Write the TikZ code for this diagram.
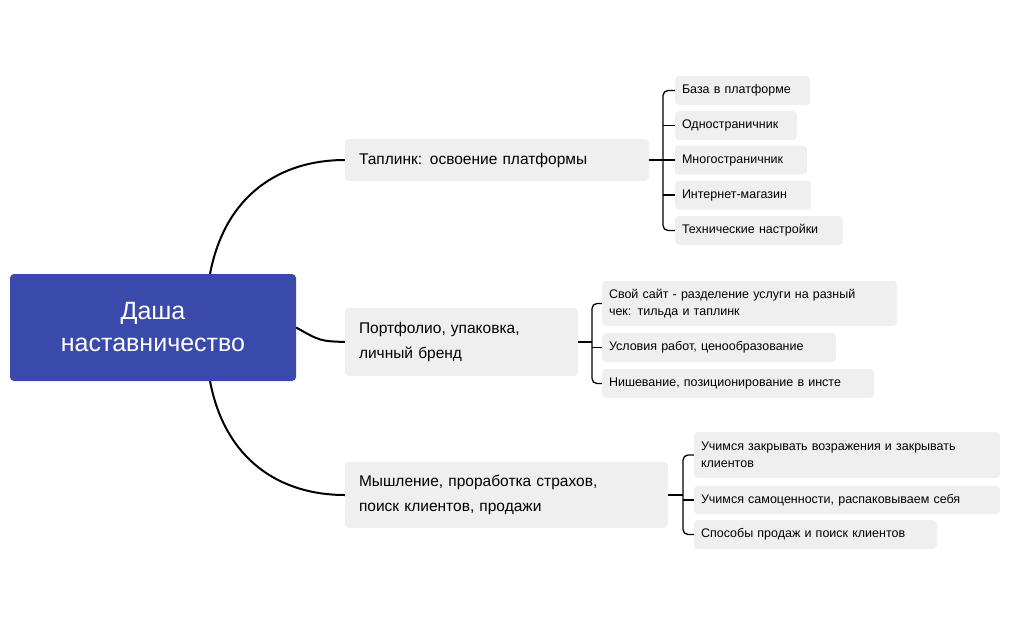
\documentclass[tikz,border=0pt]{standalone}
\usepackage{fontspec}
\setmainfont{Liberation Sans}
\begin{document}
\begin{tikzpicture}[x=1pt,y=-1pt,
  root/.style={fill=rootblue,rounded corners=4pt,text=white,align=center,font=\fontsize{25}{32}\selectfont},
  branch/.style={fill=boxgray,rounded corners=4pt,align=left,inner xsep=14pt,inner ysep=0pt,font=\fontsize{15.5}{25}\selectfont},
  leaf/.style={fill=boxgray,rounded corners=4pt,align=left,inner xsep=7pt,inner ysep=0pt,font=\fontsize{12.5}{17}\selectfont},
  conn/.style={draw=black,line width=2pt},
  brk/.style={draw=black,line width=1.3pt,rounded corners=5pt}]
\definecolor{rootblue}{HTML}{3A4AAB}
\definecolor{boxgray}{HTML}{EFEFEF}
\useasboundingbox (0,0) rectangle (1010,625);
\node[root,minimum width=286pt,minimum height=107pt] (r) at (153,327.5) {Даша\\наставничество};
\node[branch,text width=276pt,minimum height=42pt] (b1) at (497,160) {Таплинк: освоение платформы};
\node[branch,text width=205pt,minimum height=68pt] (b2) at (461.5,342) {Портфолио, упаковка,\\личный бренд};
\node[branch,text width=295pt,minimum height=66pt] (b3) at (506.5,495) {Мышление, проработка страхов,\\поиск клиентов, продажи};
% leaves
\node[leaf,text width=121pt,minimum height=29pt] (l1) at (742.5,90.5) {База в платформе};
\node[leaf,text width=108pt,minimum height=29pt] (l2) at (736,125.5) {Одностраничник};
\node[leaf,text width=118pt,minimum height=29pt] (l3) at (741,160) {Многостраничник};
\node[leaf,text width=122pt,minimum height=29pt] (l4) at (743,195) {Интернет-магазин};
\node[leaf,text width=154pt,minimum height=29pt] (l5) at (759,230.5) {Технические настройки};
\node[leaf,text width=281pt,minimum height=45pt] (m1) at (749.5,303.5) {Свой сайт - разделение услуги на разный\\чек: тильда и таплинк};
\node[leaf,text width=220pt,minimum height=29pt] (m2) at (719,347.5) {Условия работ, ценообразование};
\node[leaf,text width=258pt,minimum height=29pt] (m3) at (738,383.5) {Нишевание, позиционирование в инсте};
\node[leaf,text width=292pt,minimum height=46pt] (n1) at (847,455) {Учимся закрывать возражения и закрывать\\клиентов};
\node[leaf,text width=292pt,minimum height=28pt] (n2) at (847,500) {Учимся самоценности, распаковываем себя};
\node[leaf,text width=229pt,minimum height=29pt] (n3) at (815.5,534.5) {Способы продаж и поиск клиентов};
% main connectors
\draw[conn] (210,274) .. controls (225,195) and (280,160) .. (b1.west);
\draw[conn] (r.east) .. controls (320,341) .. (b2.west);
\draw[conn] (210,381) .. controls (225,460) and (280,495) .. (b3.west);
% brackets
\draw[brk] (b1.east) -- (663,160);
\draw[brk] (l1.west) -- (663,90.5) -- (663,230.5) -- (l5.west);
\draw[brk] (l2.west) -- (663,125.5);
\draw[brk] (l3.west) -- (663,160);
\draw[brk] (l4.west) -- (663,195);
\draw[brk] (b2.east) -- (592,342);
\draw[brk] (m1.west) -- (592,303.5) -- (592,383.5) -- (m3.west);
\draw[brk] (m2.west) -- (592,347.5);
\draw[brk] (b3.east) -- (683,495);
\draw[brk] (n1.west) -- (683,455) -- (683,534.5) -- (n3.west);
\draw[brk] (n2.west) -- (683,500);
\end{tikzpicture}
\end{document}
